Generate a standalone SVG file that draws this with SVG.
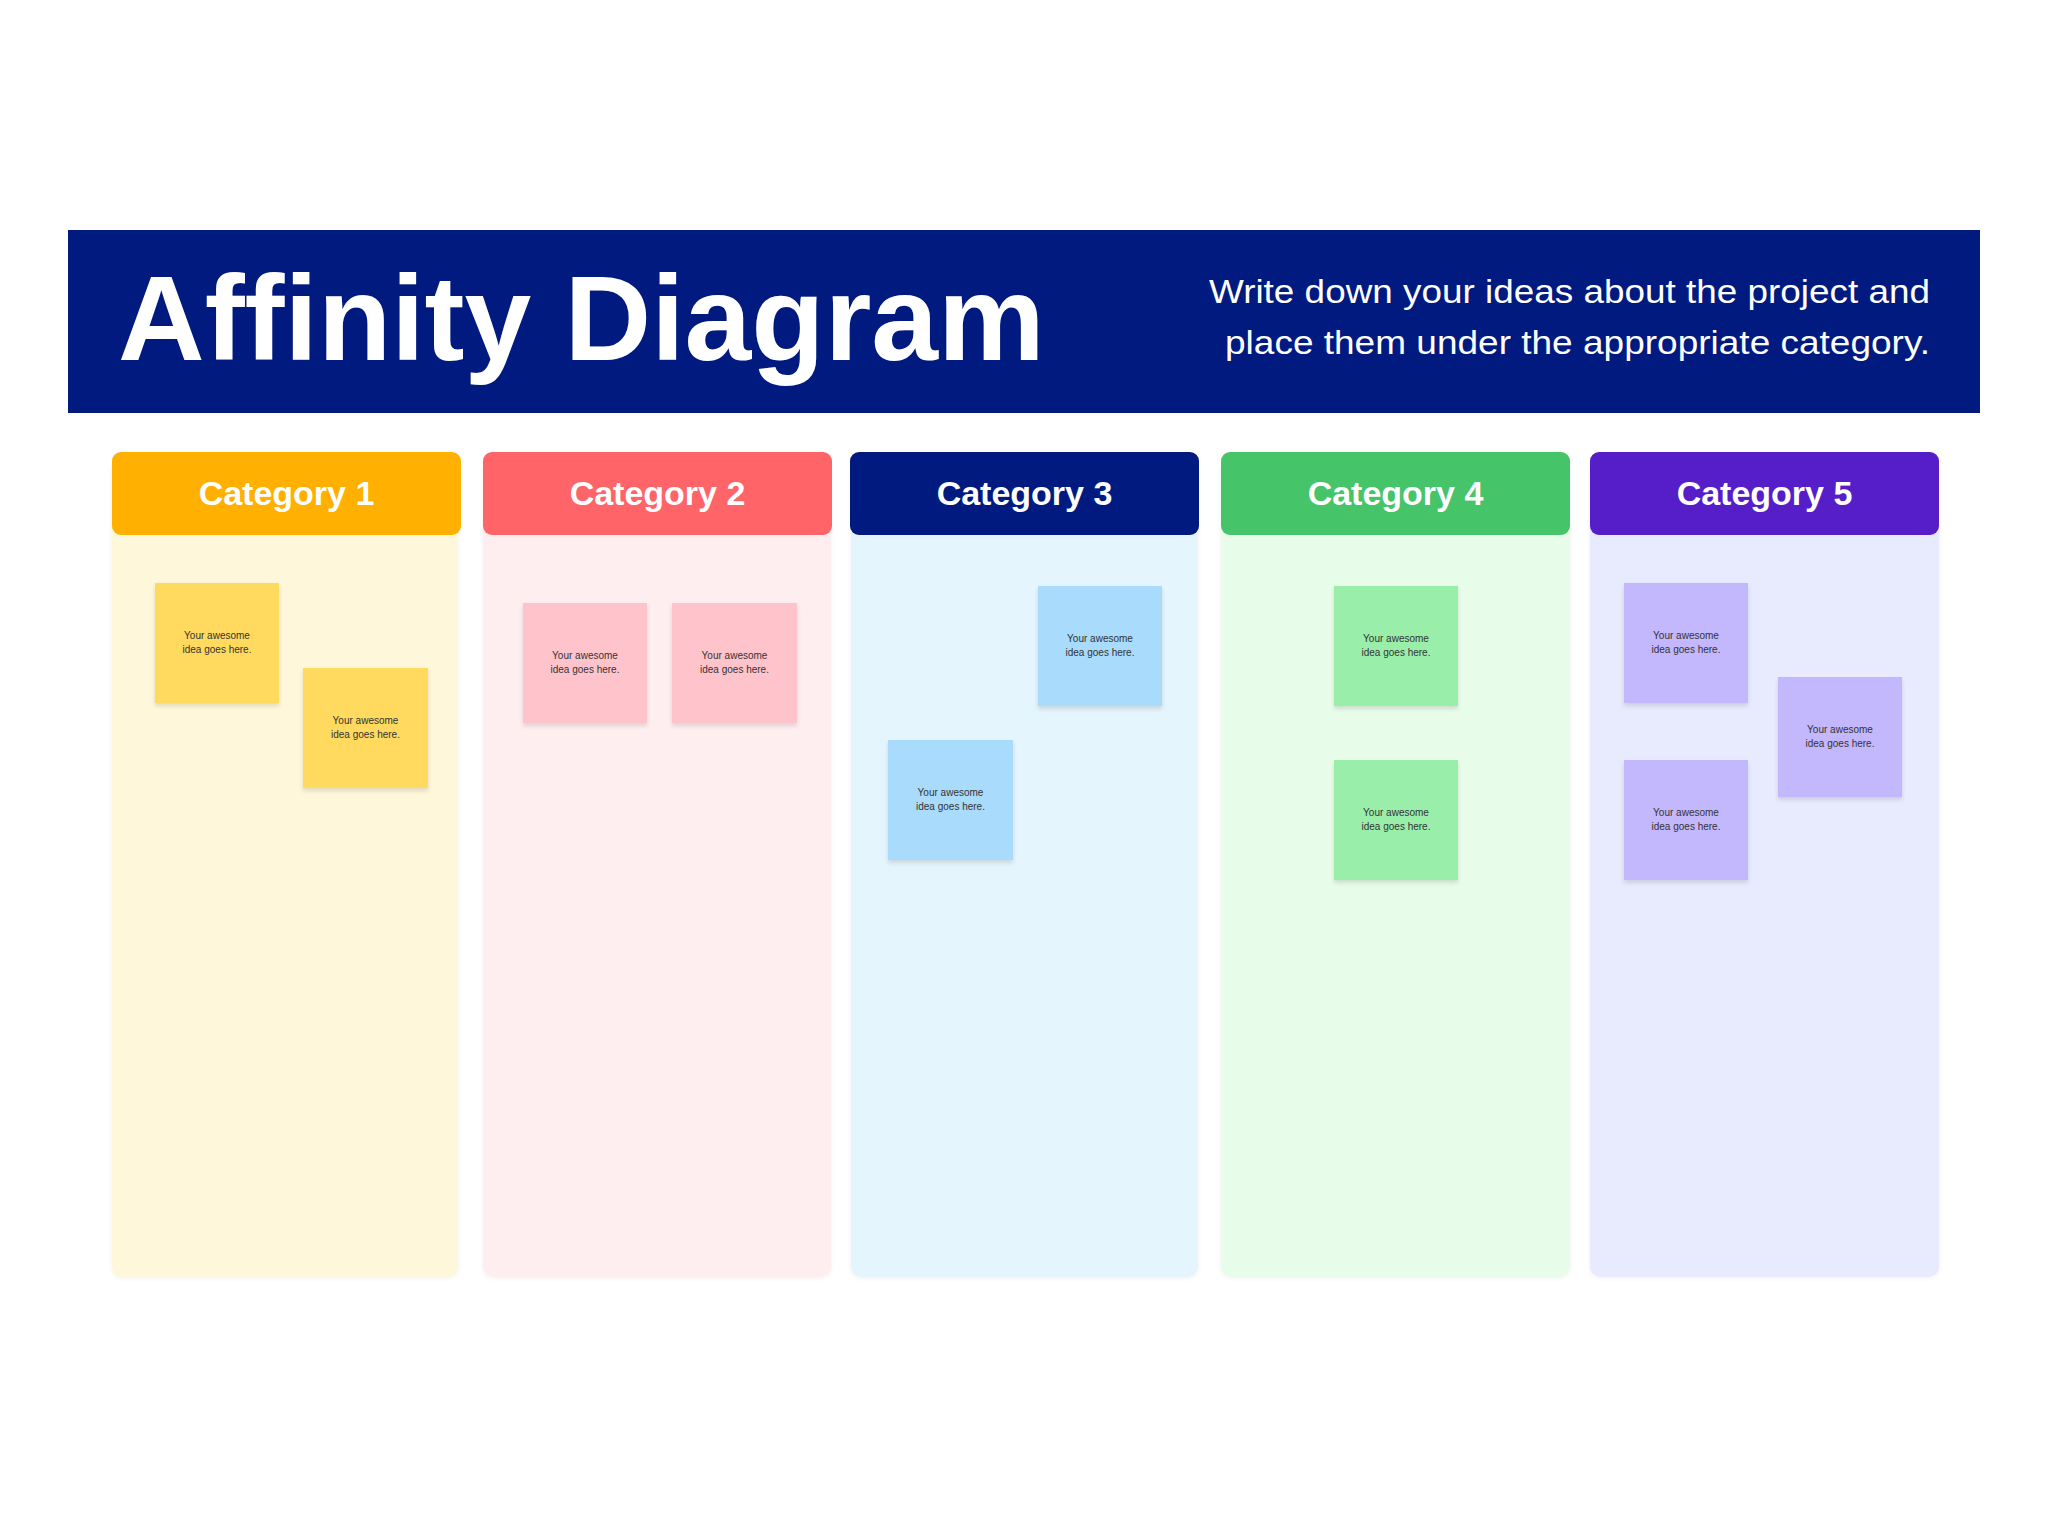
<svg xmlns="http://www.w3.org/2000/svg" width="2048" height="1536" viewBox="0 0 2048 1536">
<defs>
<style>
.title{font-family:"Liberation Sans",Arial,sans-serif;font-weight:bold;font-size:120px;fill:#ffffff}
.sub{font-family:"Liberation Sans",Arial,sans-serif;font-size:33px;fill:#ffffff}
.cat{font-family:"Liberation Sans",Arial,sans-serif;font-weight:bold;font-size:34px;fill:#ffffff;text-anchor:middle}
.nt{font-family:"Liberation Sans",Arial,sans-serif;font-size:10px;fill:#333333;text-anchor:middle}
.panel{filter:url(#pshadow)}
.note{filter:url(#nshadow)}
</style>
<filter id="pshadow" x="-5%" y="-5%" width="110%" height="110%">
<feDropShadow dx="0" dy="1" stdDeviation="2" flood-color="#000" flood-opacity="0.06"/>
</filter>
<filter id="nshadow" x="-10%" y="-10%" width="120%" height="125%">
<feDropShadow dx="0" dy="3" stdDeviation="2" flood-color="#000" flood-opacity="0.12"/>
</filter>
</defs>
<rect width="2048" height="1536" fill="#ffffff"/>
<g id="banner">
<rect x="68" y="230" width="1912" height="183" fill="#011A80"/>
<text class="title" x="118" y="360">Affinity Diagram</text>
<text class="sub" x="1930" y="303" text-anchor="end" textLength="721" lengthAdjust="spacingAndGlyphs">Write down your ideas about the project and</text>
<text class="sub" x="1930" y="354" text-anchor="end" textLength="705" lengthAdjust="spacingAndGlyphs">place them under the appropriate category.</text>
</g>
<g id="category-1">
<rect class="panel" x="112" y="460" width="346" height="817" rx="10" fill="#FFF7D9"/>
<rect x="112" y="452" width="349" height="83" rx="9" fill="#FFB000"/>
<text class="cat" x="286.5" y="505">Category 1</text>
</g>
<g id="category-2">
<rect class="panel" x="483" y="460" width="348" height="817" rx="10" fill="#FFEEEF"/>
<rect x="483" y="452" width="349" height="83" rx="9" fill="#FF6469"/>
<text class="cat" x="657.5" y="505">Category 2</text>
</g>
<g id="category-3">
<rect class="panel" x="851" y="460" width="347" height="817" rx="10" fill="#E5F5FD"/>
<rect x="850" y="452" width="349" height="83" rx="9" fill="#011A80"/>
<text class="cat" x="1024.5" y="505">Category 3</text>
</g>
<g id="category-4">
<rect class="panel" x="1221" y="460" width="349" height="817" rx="10" fill="#E8FDE9"/>
<rect x="1221" y="452" width="349" height="83" rx="9" fill="#45C469"/>
<text class="cat" x="1395.5" y="505">Category 4</text>
</g>
<g id="category-5">
<rect class="panel" x="1590" y="460" width="349" height="817" rx="10" fill="#E8EBFD"/>
<rect x="1590" y="452" width="349" height="83" rx="9" fill="#561EC8"/>
<text class="cat" x="1764.5" y="505">Category 5</text>
</g>
<g id="note-1a"><rect class="note" x="155" y="583" width="124" height="120" fill="#FFDA5E"/><text class="nt" x="217" y="639">Your awesome</text><text class="nt" x="217" y="653">idea goes here.</text></g>
<g id="note-1b"><rect class="note" x="303" y="668" width="125" height="120" fill="#FFDA5E"/><text class="nt" x="365.5" y="724">Your awesome</text><text class="nt" x="365.5" y="738">idea goes here.</text></g>
<g id="note-2a"><rect class="note" x="523" y="603" width="124" height="120" fill="#FFC4CB"/><text class="nt" x="585" y="659">Your awesome</text><text class="nt" x="585" y="673">idea goes here.</text></g>
<g id="note-2b"><rect class="note" x="672" y="603" width="125" height="120" fill="#FFC4CB"/><text class="nt" x="734.5" y="659">Your awesome</text><text class="nt" x="734.5" y="673">idea goes here.</text></g>
<g id="note-3a"><rect class="note" x="1038" y="586" width="124" height="120" fill="#A8DBFC"/><text class="nt" x="1100" y="642">Your awesome</text><text class="nt" x="1100" y="656">idea goes here.</text></g>
<g id="note-3b"><rect class="note" x="888" y="740" width="125" height="120" fill="#A8DBFC"/><text class="nt" x="950.5" y="796">Your awesome</text><text class="nt" x="950.5" y="810">idea goes here.</text></g>
<g id="note-4a"><rect class="note" x="1334" y="586" width="124" height="120" fill="#99EFAA"/><text class="nt" x="1396" y="642">Your awesome</text><text class="nt" x="1396" y="656">idea goes here.</text></g>
<g id="note-4b"><rect class="note" x="1334" y="760" width="124" height="120" fill="#99EFAA"/><text class="nt" x="1396" y="816">Your awesome</text><text class="nt" x="1396" y="830">idea goes here.</text></g>
<g id="note-5a"><rect class="note" x="1624" y="583" width="124" height="120" fill="#C3B7FD"/><text class="nt" x="1686" y="639">Your awesome</text><text class="nt" x="1686" y="653">idea goes here.</text></g>
<g id="note-5b"><rect class="note" x="1778" y="677" width="124" height="120" fill="#C3B7FD"/><text class="nt" x="1840" y="733">Your awesome</text><text class="nt" x="1840" y="747">idea goes here.</text></g>
<g id="note-5c"><rect class="note" x="1624" y="760" width="124" height="120" fill="#C3B7FD"/><text class="nt" x="1686" y="816">Your awesome</text><text class="nt" x="1686" y="830">idea goes here.</text></g>
<g id="connectors"/>
</svg>
